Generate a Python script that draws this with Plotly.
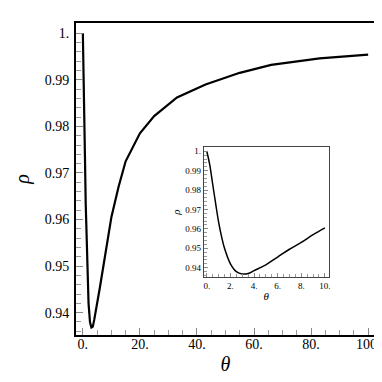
import plotly.graph_objects as go

# main curve: rho vs theta over the full range
theta_main = [0, 0.25, 0.5, 0.75, 1, 1.5, 2, 2.5, 3, 3.5, 4, 6, 8, 10, 12.5, 15, 20, 25, 33, 43, 55, 66, 83, 100]
rho_main = [1.0, 0.993, 0.983, 0.973, 0.9635, 0.95, 0.942, 0.938, 0.9368, 0.937, 0.9385, 0.9455, 0.953, 0.9605,
            0.967, 0.9725, 0.9785, 0.9822, 0.9862, 0.989, 0.9915, 0.9932, 0.9946, 0.9954]

# inset: zoom on the first 10 units
theta_inset = [0, 0.25, 0.5, 0.75, 1, 1.25, 1.5, 2, 2.5, 3, 3.5, 4, 5, 6, 7, 8, 9, 10]
rho_inset = [1.0, 0.993, 0.983, 0.973, 0.9635, 0.956, 0.95, 0.942, 0.938, 0.9368, 0.937, 0.9385, 0.9415,
             0.9455, 0.9495, 0.953, 0.957, 0.9605]

main_xticks = [0, 20, 40, 60, 80, 100]
main_xlabels = ["0.", "20.", "40.", "60.", "80.", "100."]
yticks = [0.94, 0.95, 0.96, 0.97, 0.98, 0.99, 1.0]
ylabels = ["0.94", "0.95", "0.96", "0.97", "0.98", "0.99", "1."]
inset_xticks = [0, 2, 4, 6, 8, 10]
inset_xlabels = ["0.", "2.", "4.", "6.", "8.", "10."]

SERIF = "Times New Roman"


def sfont(size):
    return dict(family=SERIF, size=size, color="black")


fig = go.Figure()
fig.add_trace(go.Scatter(x=theta_main, y=rho_main, mode="lines",
                         line=dict(color="black", width=2.2), xaxis="x", yaxis="y"))
fig.add_trace(go.Scatter(x=theta_inset, y=rho_inset, mode="lines", line_shape="spline",
                         line=dict(color="black", width=1.5), xaxis="x2", yaxis="y2"))

axis_common = dict(showgrid=False, zeroline=False, showline=True, mirror=True, ticks="inside")

fig.update_layout(
    width=382, height=382,
    margin=dict(l=68, r=10, t=15, b=55),
    paper_bgcolor="white", plot_bgcolor="white",
    showlegend=False,
    font=sfont(12),
    xaxis=dict(**axis_common, domain=[0, 1], anchor="y", range=[-2.4, 102.4],
               tickvals=main_xticks, ticktext=main_xlabels, tickfont=sfont(14), ticklabelstandoff=-5,
               linecolor="black", linewidth=2, ticklen=7, tickcolor="#888",
               minor=dict(ticks="inside", dtick=5, ticklen=5, tickcolor="#999"),
               title=dict(text="<i>θ</i>", font=sfont(20), standoff=6)),
    yaxis=dict(**axis_common, domain=[0, 1], anchor="x", range=[0.9352, 1.0022],
               tickvals=yticks, ticktext=ylabels, tickfont=sfont(14), ticklabelstandoff=2,
               linecolor="black", linewidth=2, ticklen=7, tickcolor="#888",
               minor=dict(ticks="inside", dtick=0.002, tick0=0.94, ticklen=5, tickcolor="#999"),
               title=dict(text="<i>ρ</i>", font=sfont(20), standoff=10)),
    xaxis2=dict(**axis_common, domain=[0.4276, 0.8454], anchor="y2", range=[-0.25, 10.33],
                tickvals=inset_xticks, ticktext=inset_xlabels, tickfont=sfont(9),
                linecolor="#444", linewidth=1.3, ticklen=4, tickcolor="#888",
                minor=dict(ticks="inside", dtick=0.5, ticklen=2.5, tickcolor="#999"),
                title=dict(text="<i>θ</i>", font=sfont(11), standoff=2)),
    yaxis2=dict(**axis_common, domain=[0.1859, 0.6026], anchor="x2", range=[0.9352, 1.0022],
                tickvals=yticks, ticktext=ylabels, tickfont=sfont(9),
                linecolor="#444", linewidth=1.3, ticklen=4, tickcolor="#888",
                minor=dict(ticks="inside", dtick=0.002, tick0=0.94, ticklen=2.5, tickcolor="#999"),
                title=dict(text="<i>ρ</i>", font=sfont(11), standoff=2)),
)

fig.write_html("out.html")
